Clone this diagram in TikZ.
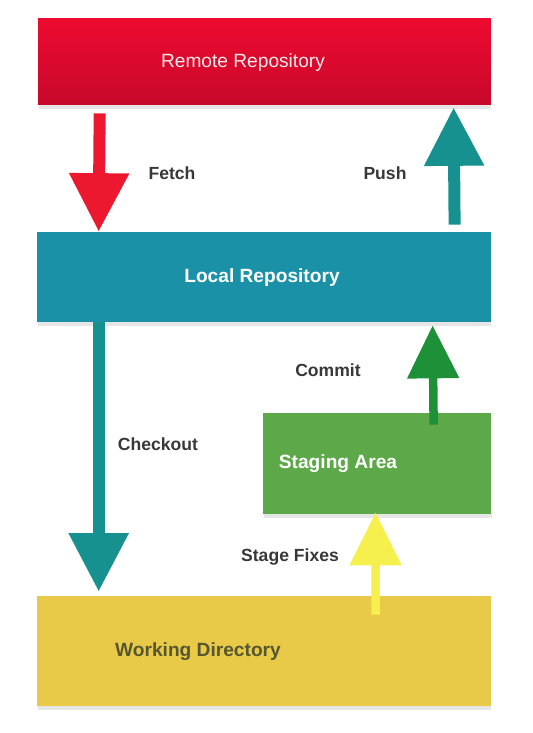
\documentclass[tikz,border=0pt]{standalone}
\usepackage{fontspec}
\setmainfont{Liberation Sans}
\usetikzlibrary{arrows.meta,shadows}

\definecolor{remotered}{HTML}{EE0A30}
\definecolor{remotedark}{HTML}{C7082A}
\definecolor{localblue}{HTML}{1B91A8}
\definecolor{stagegreen}{HTML}{5DA848}
\definecolor{workyellow}{HTML}{E8CA48}
\definecolor{fetchred}{HTML}{EC1830}
\definecolor{arrowteal}{HTML}{16918F}
\definecolor{commitgreen}{HTML}{1E9038}
\definecolor{fixyellow}{HTML}{F6F04E}
\definecolor{labelgray}{HTML}{383838}

\tikzset{
  box/.style={draw=none,inner sep=0pt,drop shadow={shadow xshift=0.3pt,shadow yshift=-2pt,opacity=0.2}},
  title/.style={font=\fontsize{10.9}{13}\selectfont\bfseries,text=white},
  verb/.style={font=\fontsize{10}{12}\selectfont\bfseries,text=labelgray},
  bigflow/.style={line width=0.24cm,-{Triangle[width=1.14cm,length=1.17cm]}},
  smallflow/.style={line width=0.17cm,-{Triangle[width=1.0cm,length=1.06cm]}}
}

\begin{document}
\begin{tikzpicture}[x=0.02cm,y=-0.02cm]
\useasboundingbox (0,0) rectangle (533,733);
% the four areas
\node[box,top color=remotered,bottom color=remotedark,minimum width=9.06cm,minimum height=1.74cm] (remote) at (264.5,61.5) {};
\node[box,fill=localblue,minimum width=9.08cm,minimum height=1.8cm] (local) at (264,277) {};
\node[box,fill=stagegreen,minimum width=4.56cm,minimum height=2.02cm] (staging) at (377,463.5) {};
\node[box,fill=workyellow,minimum width=9.08cm,minimum height=2.2cm] (working) at (264,651) {};
% their titles
\node[title,font=\fontsize{10.9}{13}\selectfont,text=white!92!red] at (243,63) {Remote Repository};
\node[title] at (262,278) {Local Repository};
\node[title] at (338,464) {Staging Area};
\node[title,text=labelgray!85!yellow] at (198,652) {Working Directory};
% the arrows
\draw[bigflow,fetchred] ([xshift=1.24cm,yshift=-0.16cm]remote.south west) -- ([xshift=1.24cm]local.north west);
\draw[bigflow,arrowteal] ([xshift=8.36cm,yshift=0.14cm]local.north west) -- ([xshift=8.32cm,yshift=-0.04cm]remote.south west);
\draw[bigflow,arrowteal] ([xshift=1.24cm]local.south west) -- ([xshift=1.24cm,yshift=0.08cm]working.north west);
\draw[smallflow,commitgreen] ([xshift=3.42cm,yshift=-0.24cm]staging.north west) -- ([xshift=7.92cm,yshift=-0.06cm]local.south west);
\draw[smallflow,fixyellow] ([xshift=6.78cm,yshift=-0.38cm]working.north west) -- ([xshift=2.26cm,yshift=0.04cm]staging.south west);
% the labels
\node[verb] at (172,173) {Fetch};
\node[verb] at (385,173) {Push};
\node[verb] at (158,444) {Checkout};
\node[verb] at (328,370) {Commit};
\node[verb] at (290,557) {Stage Fixes};
\end{tikzpicture}
\end{document}
